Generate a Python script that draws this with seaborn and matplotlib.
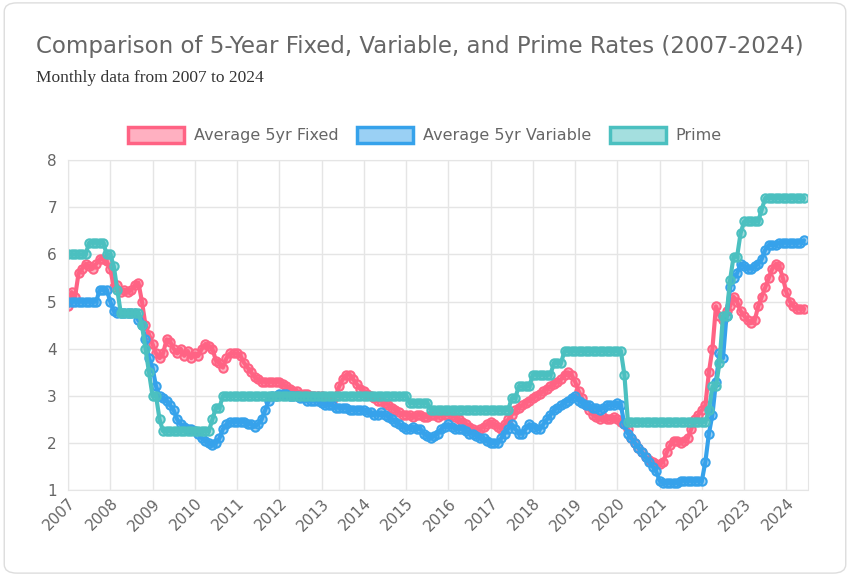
import matplotlib
matplotlib.use("Agg")
import matplotlib.pyplot as plt
import seaborn as sns
import pandas as pd
import numpy as np
from matplotlib.patches import Patch, FancyBboxPatch

fixed = {
2007:[4.9,5.2,5.1,5.6,5.7,5.8,5.75,5.7,5.8,5.9,5.9,5.85],
2008:[5.7,5.3,5.35,5.2,5.25,5.2,5.25,5.35,5.4,5.0,4.5,4.3],
2009:[4.1,3.9,3.8,3.9,4.2,4.15,4.0,3.9,4.0,3.85,3.95,3.8],
2010:[3.9,3.85,4.0,4.1,4.05,4.0,3.75,3.7,3.6,3.8,3.9,3.9],
2011:[3.9,3.85,3.7,3.6,3.5,3.4,3.35,3.3,3.3,3.3,3.3,3.3],
2012:[3.3,3.25,3.2,3.15,3.1,3.1,3.05,3.05,3.05,3.0,3.0,3.0],
2013:[3.0,2.95,2.9,2.9,3.0,3.2,3.35,3.45,3.45,3.35,3.25,3.15],
2014:[3.1,3.05,3.0,2.95,2.9,2.9,2.85,2.8,2.75,2.7,2.65,2.6],
2015:[2.6,2.6,2.55,2.6,2.6,2.55,2.55,2.6,2.6,2.55,2.6,2.6],
2016:[2.6,2.6,2.55,2.5,2.45,2.4,2.35,2.3,2.25,2.3,2.35,2.4],
2017:[2.45,2.4,2.35,2.3,2.4,2.5,2.6,2.7,2.75,2.8,2.85,2.9],
2018:[2.95,3.0,3.05,3.1,3.15,3.2,3.25,3.3,3.35,3.45,3.5,3.45],
2019:[3.3,3.1,2.95,2.8,2.7,2.6,2.55,2.5,2.55,2.5,2.5,2.55],
2020:[2.5,2.45,2.4,2.3,2.1,2.0,1.9,1.8,1.7,1.65,1.6,1.55],
2021:[1.55,1.6,1.8,1.95,2.05,2.05,2.0,2.05,2.1,2.3,2.5,2.6],
2022:[2.7,2.8,3.5,4.0,4.9,4.7,4.6,4.8,4.9,5.1,5.0,4.8],
2023:[4.7,4.6,4.55,4.6,4.9,5.1,5.3,5.5,5.7,5.8,5.75,5.5],
2024:[5.2,5.0,4.9,4.85,4.85,4.85],
}
variable = {
2007:[5.0,5.0,5.0,5.0,5.0,5.0,5.0,5.0,5.0,5.25,5.25,5.25],
2008:[5.0,4.8,4.75,4.75,4.75,4.75,4.75,4.75,4.6,4.5,4.2,3.8],
2009:[3.6,3.2,3.0,2.95,2.9,2.8,2.7,2.5,2.4,2.35,2.3,2.3],
2010:[2.25,2.2,2.1,2.05,2.0,1.95,2.0,2.1,2.3,2.4,2.45,2.45],
2011:[2.45,2.45,2.45,2.4,2.4,2.35,2.4,2.5,2.7,2.9,3.0,3.0],
2012:[3.05,3.05,3.05,3.0,3.0,3.0,2.95,2.95,2.9,2.9,2.9,2.9],
2013:[2.85,2.8,2.8,2.8,2.75,2.75,2.75,2.75,2.7,2.7,2.7,2.7],
2014:[2.7,2.65,2.65,2.6,2.6,2.65,2.6,2.55,2.5,2.45,2.4,2.35],
2015:[2.3,2.3,2.35,2.3,2.3,2.2,2.15,2.1,2.15,2.2,2.3,2.35],
2016:[2.4,2.35,2.3,2.3,2.3,2.25,2.2,2.2,2.15,2.1,2.1,2.05],
2017:[2.0,2.0,2.0,2.1,2.2,2.3,2.4,2.3,2.2,2.2,2.3,2.4],
2018:[2.35,2.3,2.3,2.4,2.5,2.6,2.7,2.75,2.8,2.85,2.9,2.95],
2019:[3.0,2.9,2.85,2.8,2.8,2.75,2.75,2.7,2.75,2.8,2.8,2.8],
2020:[2.85,2.8,2.4,2.2,2.1,2.0,1.9,1.8,1.7,1.6,1.5,1.4],
2021:[1.2,1.15,1.15,1.15,1.15,1.15,1.2,1.2,1.2,1.2,1.2,1.2],
2022:[1.2,1.6,2.2,2.6,3.3,3.9,3.8,4.7,5.3,5.5,5.6,5.8],
2023:[5.75,5.7,5.7,5.75,5.8,5.9,6.1,6.2,6.2,6.2,6.25,6.25],
2024:[6.25,6.25,6.25,6.25,6.25,6.3],
}
prime = {
2007:[6,6,6,6,6,6,6.25,6.25,6.25,6.25,6.25,6.0],
2008:[6.0,5.75,5.25,4.75,4.75,4.75,4.75,4.75,4.75,4.5,4.0,3.5],
2009:[3.0,3.0,2.5]+[2.25]*9,
2010:[2.25]*5+[2.5,2.75,2.75,3.0,3.0,3.0,3.0],
2011:[3.0]*12, 2012:[3.0]*12, 2013:[3.0]*12, 2014:[3.0]*12,
2015:[3.0]+[2.85]*6+[2.7]*5,
2016:[2.7]*12,
2017:[2.7]*6+[2.95,2.95,3.2,3.2,3.2,3.2],
2018:[3.45]*6+[3.7,3.7,3.7,3.95,3.95,3.95],
2019:[3.95]*12,
2020:[3.95,3.95,3.45]+[2.45]*9,
2021:[2.45]*12,
2022:[2.45,2.45,2.7,3.2,3.2,3.7,4.7,4.7,5.45,5.95,5.95,6.45],
2023:[6.7]*5+[6.95]+[7.2]*6,
2024:[7.2]*6,
}

def flat(d):
    t, v = [], []
    for y, vals in d.items():
        for m, val in enumerate(vals):
            t.append(y + m/12); v.append(val)
    return t, v

rows = []
for name, d in [("Average 5yr Fixed", fixed), ("Average 5yr Variable", variable), ("Prime", prime)]:
    t, v = flat(d)
    rows += [{"t": a, "rate": b, "series": name} for a, b in zip(t, v)]
df = pd.DataFrame(rows)

colors = {"Average 5yr Fixed": "#ff6384", "Average 5yr Variable": "#36a2eb", "Prime": "#4bc0c0"}
sns.set_style("white")
plt.rcParams['font.family'] = ['DejaVu Sans']
fig = plt.figure(figsize=(8.5, 5.76), dpi=100)
card = FancyBboxPatch((0.005, 0.005), 0.99, 0.99, boxstyle="round,pad=0,rounding_size=0.015",
                      transform=fig.transFigure, fc="none", ec="#dddddd", lw=1, zorder=-10)
fig.patches.append(card)
ax = fig.add_axes([0.08, 0.149, 0.87, 0.573])
ax.set_zorder(5)
for name in ["Average 5yr Fixed", "Average 5yr Variable", "Prime"]:
    sub = df[df.series == name]
    c = colors[name]
    sns.lineplot(data=sub, x="t", y="rate", ax=ax, color=c, lw=3, legend=False,
                 marker="o", markersize=6, markerfacecolor=matplotlib.colors.to_rgba(c, 0.5),
                 markeredgecolor=c, markeredgewidth=1.5)
ax.set_xlim(2007, 2024.5)
ax.set_ylim(1, 8)
ax.set_xticks(range(2007, 2025))
ax.set_xticklabels([str(y) for y in range(2007, 2025)], rotation=45, ha="right", rotation_mode="anchor",
                   fontsize=11, color="#666666")
ax.tick_params(axis="y", labelsize=11, labelcolor="#666666", length=0, pad=8)
ax.tick_params(axis="x", length=0, pad=4)
ax.set_yticks(range(1, 9))
ax.grid(True, color="#e5e5e5", lw=1)
for s in ax.spines.values():
    s.set_color("#e5e5e5")
ax.set_xlabel(""); ax.set_ylabel("")
fig.text(0.042, 0.92, "Comparison of 5-Year Fixed, Variable, and Prime Rates (2007-2024)",
         fontsize=16.5, color="#666666", va="center")
fig.text(0.042, 0.865, "Monthly data from 2007 to 2024", fontsize=12.5, color="#333333",
         family="Liberation Serif", va="center")
handles = [Patch(facecolor=matplotlib.colors.to_rgba(c, 0.5), edgecolor=c, lw=2.5, label=n)
           for n, c in colors.items()]
leg = fig.legend(handles=handles, loc="center", bbox_to_anchor=(0.5, 0.765), ncol=3, frameon=False,
                 fontsize=11.5, handlelength=3.5, handleheight=1.1, columnspacing=1.2, handletextpad=0.6)
for t in leg.get_texts():
    t.set_color("#666666")
fig.savefig("out.png", dpi=100)
